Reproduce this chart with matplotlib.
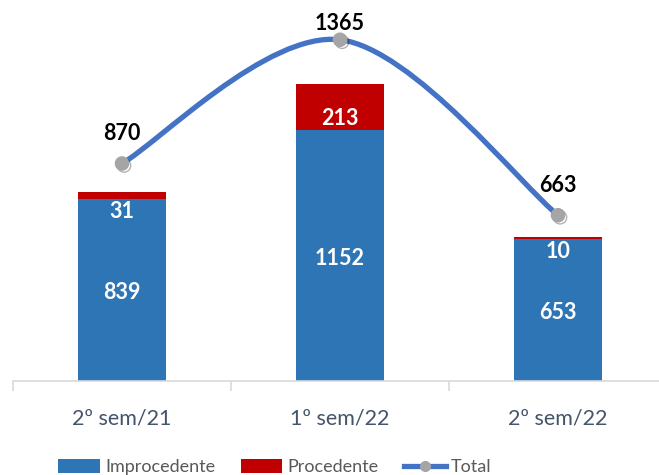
import numpy as np
import matplotlib.pyplot as plt
from matplotlib.path import Path
from matplotlib.patches import PathPatch
import matplotlib.patheffects as pe

categories = ['2º sem/21', '1º sem/22', '2º sem/22']
improcedente = [839, 1152, 653]
procedente = [31, 213, 10]
total = [870, 1365, 663]

BLUE = '#2E75B6'
RED = '#C00000'
LINE = '#4472C4'
FONT = ['Lato', 'DejaVu Sans']

plt.rcParams['font.family'] = FONT

fig = plt.figure(figsize=(6.59, 4.75), dpi=100)
ax = fig.add_axes([13/659, 94/475, 654/659, 381/475])
ax2 = ax.twinx()

x = np.arange(len(categories))
w = 0.4
ax.bar(x, improcedente, w, color=BLUE, label='Improcedente', zorder=2)
ax.bar(x, procedente, w, bottom=improcedente, color=RED, label='Procedente', zorder=2)

ax.set_xlim(-0.5, 2.5)
ax.set_ylim(0, 1752)
ax2.set_ylim(0, 1524)

# labels on the bars
for i in range(len(x)):
    ax.annotate(str(improcedente[i]), (x[i], improcedente[i] / 2), xytext=(0, -3),
                textcoords='offset pixels', ha='center', va='center',
                color='white', fontsize=15.5, fontweight='bold')
    off = 12 if procedente[i] >= 100 else -13
    ax.annotate(str(procedente[i]), (x[i], improcedente[i]), xytext=(0, off),
                textcoords='offset pixels', ha='center', va='center',
                color='white', fontsize=15.5, fontweight='bold')

# smooth total line (bezier through the points, like Excel's smoothed line)
pts = np.column_stack([x, total]).astype(float)
n = len(pts)
verts = [pts[0]]
codes = [Path.MOVETO]
for i in range(n - 1):
    p_prev = pts[max(i - 1, 0)]
    p0, p1 = pts[i], pts[i + 1]
    p_next = pts[min(i + 2, n - 1)]
    c1 = p0 + (p1 - p_prev) / 6
    c2 = p1 - (p_next - p0) / 6
    verts += [c1, c2, p1]
    codes += [Path.CURVE4] * 3
curve = PathPatch(Path(verts, codes), fill=False, edgecolor=LINE, lw=3.8,
                  capstyle='round', zorder=3)
ax2.add_patch(curve)
ax2.plot(x, total, 'o', color='#A5A5A5', ms=9.5, mec='#A5A5A5', zorder=4,
         path_effects=[pe.SimpleLineShadow(offset=(1.5, -1.5), alpha=0.3), pe.Normal()])
ax2.plot([], [], '-o', color=LINE, lw=3.8, ms=7, mfc='#A5A5A5', mec='#A5A5A5', label='Total')

lbl_off = [30, 16, 30]
for i in range(len(x)):
    ax2.annotate(str(total[i]), (x[i], total[i]), xytext=(0, lbl_off[i]),
                 textcoords='offset pixels', ha='center', va='center',
                 color='black', fontsize=15.5, fontweight='bold')

# axes styling
for a in (ax, ax2):
    for s in ['top', 'right', 'left']:
        a.spines[s].set_visible(False)
    a.set_yticks([])
ax2.spines['bottom'].set_visible(False)
ax.spines['bottom'].set_color('#D9D9D9')
ax.spines['bottom'].set_linewidth(1.2)
ax.set_xticks(x)
ax.set_xticklabels(categories, fontsize=15.5, color='#44546A')
ax.tick_params(axis='x', which='major', length=0, pad=20)
ax.set_xticks([-0.5, 0.5, 1.5, 2.5], minor=True)
ax.tick_params(axis='x', which='minor', length=7, color='#D9D9D9', width=1.2)

h1, l1 = ax.get_legend_handles_labels()
h2, l2 = ax2.get_legend_handles_labels()
fig.legend(h1 + h2, l1 + l2, loc='center', bbox_to_anchor=(275/659, 1 - 467/475),
           ncol=3, frameon=False, fontsize=13, labelcolor='#595959',
           handlelength=2.3, handleheight=0.8, handletextpad=0.3, columnspacing=1.4)

fig.savefig('out.png', dpi=100)
